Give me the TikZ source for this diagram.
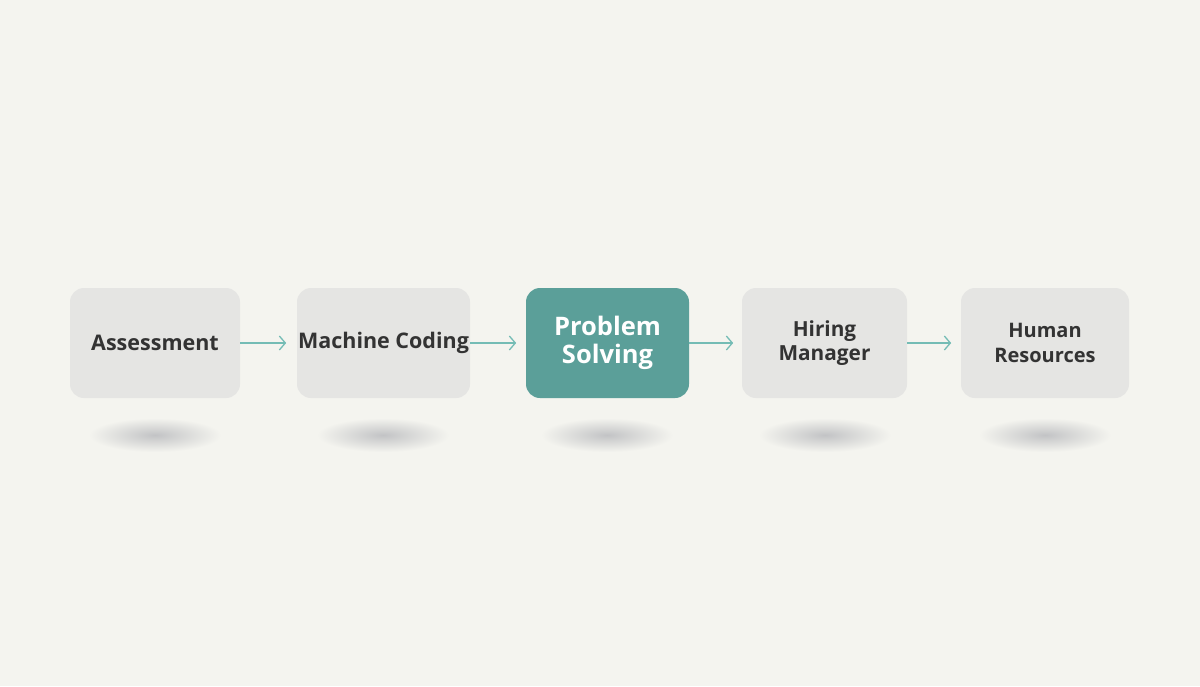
\documentclass[tikz,border=0pt]{standalone}
\usepackage{fontspec}
\setmainfont{Open Sans}
\usetikzlibrary{arrows.meta}
\definecolor{bgcol}{HTML}{F4F4EF}
\definecolor{boxcol}{HTML}{E5E5E3}
\definecolor{tealcol}{HTML}{5B9F99}
\definecolor{txtcol}{HTML}{333333}
\definecolor{arrcol}{HTML}{74BCB5}
\definecolor{shcol}{HTML}{C2C3C5}
\tikzset{
  stagebox/.style={rectangle, rounded corners=14pt, fill=boxcol, minimum height=110pt,
    text=txtcol, font=\bfseries\fontsize{21.5}{26}\selectfont, align=center, inner sep=0pt},
  hotbox/.style={stagebox, fill=tealcol, text=white, font=\bfseries\fontsize{25.5}{27.5}\selectfont},
  flow/.style={arrcol, line width=1.3pt, -{Straight Barb[length=6pt,width=14pt,line width=1.3pt]}}
}
\begin{document}
\begin{tikzpicture}[x=1pt,y=-1pt]
\fill[bgcol] (0,0) rectangle (1200,686);
\useasboundingbox (0,0) rectangle (1200,686);
% shadows
\foreach \cx in {155,383,607,825,1045}{
  \shade[inner color=shcol, outer color=bgcol] (\cx,435) ellipse (66 and 17);
}
\node[stagebox, minimum width=170pt] (a) at (155,343) {Assessment};
\node[stagebox, minimum width=173pt] (b) at (383.5,343) {Machine Coding};
\node[hotbox, minimum width=163pt] (c) at (607.5,343) {Problem\\Solving};
\node[stagebox, minimum width=165pt, font=\bfseries\fontsize{20.8}{24.5}\selectfont] (d) at (824.5,343) {Hiring\\Manager};
\node[stagebox, minimum width=168pt, font=\bfseries\fontsize{20}{24.5}\selectfont] (e) at (1045,343) {Human\\Resources};
\draw[flow] (a.east) -- ++(46,0) coordinate (ab);
\draw[flow] (b.east) -- ++(46,0) coordinate (bc);
\draw[flow] (c.east) -- ++(44,0) coordinate (cd);
\draw[flow] (d.east) -- ++(44,0) coordinate (de);
\end{tikzpicture}
\end{document}
